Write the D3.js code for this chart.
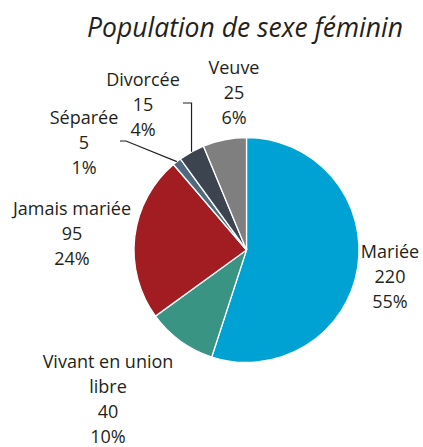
<!DOCTYPE html>
<html>
    <head>
        <meta charset="utf-8">
        <title>Population de sexe féminin</title>
        <script src="https://d3js.org/d3.v7.min.js"></script>
        <style>
            body{
                margin: 0;
                background: #fff;
                font-family: "Open Sans", sans-serif;
            }
            .title{
                font-style: italic;
                font-size: 26.5px;
                fill: #231f20;
            }
            .lbl{
                font-size: 18px;
                fill: #231f20;
            }
            .leader{ stroke: #231f20; stroke-width: 1.2px; fill: none; }
        </style>
    </head>
    <body>
        <svg width="423" height="447"></svg>
    <script>
        // data
        var categories = ["Mariée", "Vivant en union libre", "Jamais mariée", "Séparée", "Divorcée", "Veuve"];
        var values = [220, 40, 95, 5, 15, 25];
        var percents = ["55%", "10%", "24%", "1%", "4%", "6%"];
        var colors = ["#00a2d4", "#3a9484", "#a11d21", "#4e6a7c", "#3c4450", "#7f7f7f"];

        // label lines (text broken as in the picture) and where they sit
        var labelLines = [
            ["Mariée"],
            ["Vivant en union", "libre"],
            ["Jamais mariée"],
            ["Séparée"],
            ["Divorcée"],
            ["Veuve"]
        ];
        var labelPos = [[390, 252], [108, 362], [72, 209], [84, 118], [143, 80], [234, 68]];
        var lineGap = 24.8;

        var svg = d3.select("svg"),
            cx = 246.5, cy = 250, r = 112.5;

        svg.append("text")
            .attr("class", "title")
            .attr("x", 245)
            .attr("y", 37)
            .attr("text-anchor", "middle")
            .text("Population de sexe féminin");

        var pie = d3.pie().sort(null).value(function (d) {return d;});
        var arcs = pie(values);
        var arc = d3.arc().innerRadius(0).outerRadius(r);

        var g = svg.append("g").attr("transform", "translate(" + cx + "," + cy + ")");

        g.selectAll("path")
            .data(arcs)
            .enter()
            .append("path")
            .attr("d", arc)
            .attr("fill", function (d, i) {return colors[i];})
            .attr("stroke", "#fff")
            .attr("stroke-width", 1.3);

        // point on the outer edge at the middle of a slice
        function edge(i) {
            var a = (arcs[i].startAngle + arcs[i].endAngle) / 2;
            return [cx + Math.sin(a) * r, cy - Math.cos(a) * r];
        }

        // leader lines for the two small slices
        var pS = edge(3);
        svg.append("path").attr("class", "leader")
            .attr("d", "M120," + 141 + " L126,141 L" + pS[0] + "," + pS[1]);
        var pD = edge(4);
        svg.append("path").attr("class", "leader")
            .attr("d", "M183,103 L" + pD[0] + ",103 L" + pD[0] + "," + pD[1]);

        labelLines.forEach(function (lines, i) {
            var all = lines.concat([String(values[i]), percents[i]]);
            var t = svg.append("text")
                .attr("class", "lbl")
                .attr("text-anchor", "middle");
            all.forEach(function (s, k) {
                t.append("tspan")
                    .attr("x", labelPos[i][0])
                    .attr("y", labelPos[i][1] + k * lineGap)
                    .attr("dy", "0.35em")
                    .text(s);
            });
        });
    </script>
    </body>
</html>
